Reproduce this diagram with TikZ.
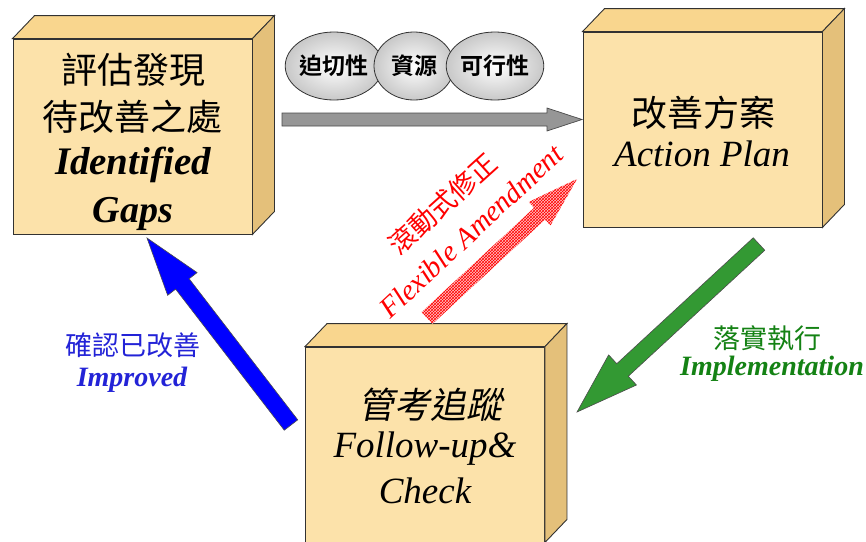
\documentclass[tikz,border=0pt]{standalone}
\usepackage{fontspec}
\setmainfont{Liberation Serif}
\newfontfamily\cjk{Noto Sans CJK TC}
\newfontfamily\cjkb{Noto Sans CJK TC Bold}
\newfontfamily\cjksl{Noto Sans CJK TC}[FakeSlant=0.2]
\usetikzlibrary{calc,patterns,shapes.geometric}

\definecolor{boxfront}{RGB}{252,226,170}
\definecolor{boxtop}{RGB}{249,214,142}
\definecolor{boxside}{RGB}{228,192,122}
\definecolor{edgec}{RGB}{50,50,50}
\definecolor{arrgreen}{RGB}{51,153,51}
\definecolor{txtgreen}{RGB}{20,130,20}
\definecolor{txtblue}{RGB}{35,35,215}
\definecolor{arrgray}{RGB}{150,150,150}
\definecolor{ballgray}{RGB}{200,200,200}

% style, tail, tip, shaft half width, head half width, head length
\newcommand{\blockarrow}[6]{%
  \coordinate (ba-h) at ($(#3)!#6!(#2)$);
  \path[#1] ($(#2)!#4!90:(#3)$) -- ($(ba-h)!#4!90:(#3)$) -- ($(ba-h)!#5!90:(#3)$)
    -- (#3) -- ($(ba-h)!#5!-90:(#3)$) -- ($(ba-h)!#4!-90:(#3)$) -- ($(#2)!#4!-90:(#3)$) -- cycle;
}
\newcommand{\threedbox}[1]{%
  \path[topface] (#1.north west) -- ++(22,-23) -- ($(#1.north east)+(22,-23)$) -- (#1.north east) -- cycle;
  \path[sideface] (#1.north east) -- ++(22,-23) -- ($(#1.south east)+(22,-23)$) -- (#1.south east) -- cycle;
}

\begin{document}
\begin{tikzpicture}[x=1pt,y=-1pt,
  front/.style={draw=edgec, line width=0.9pt, fill=boxfront, minimum width=239pt, minimum height=195pt, inner sep=0pt},
  topface/.style={draw=edgec, line width=0.9pt, fill=boxtop},
  sideface/.style={draw=edgec, line width=0.9pt, fill=boxside},
  ball/.style={ellipse, draw=black!80, line width=0.8pt, inner color=white, outer color=ballgray, minimum height=68pt, inner sep=0pt},
  lbl/.style={inner sep=0pt, anchor=center}
]
\useasboundingbox (0,0) rectangle (866,541);
\fill[white] (0,0) rectangle (866,541);

% ---------- 3D boxes ----------
\node[front] (gaps) at (132.5,136.5) {};
\threedbox{gaps}
\node[front] (plan) at (702.5,129.5) {};
\threedbox{plan}
\node[front] (check) at (425,444.5) {};
\threedbox{check}

% ---------- box texts ----------
\node[lbl] (g1) at (133,70) {\fontsize{36}{36}\cjk 評估發現};
\node[lbl] (g2) at (132,117) {\fontsize{36}{36}\cjk 待改善之處};
\node[lbl] (g3) at (133,165) {\fontsize{39}{39}\selectfont\bfseries\itshape Identified};
\node[lbl] (g4) at (133,214) {\fontsize{38}{38}\selectfont\bfseries\itshape Gaps};

\node[lbl] (p1) at (703,113) {\fontsize{36}{36}\cjk 改善方案};
\node[lbl] (p2) at (702,154) {\fontsize{37}{37}\selectfont\itshape Action Plan};

\node[lbl] (c1) at (430,405) {\fontsize{36}{36}\cjksl 管考追蹤};
\node[lbl] (c2) at (425,449) {\fontsize{37}{37}\selectfont\itshape Follow-up\&};
\node[lbl] (c3) at (425,491) {\fontsize{37}{37}\selectfont\itshape Check};

% ---------- criteria balls ----------
\node[ball, minimum width=85pt] (e1) at (334,66) {\fontsize{23}{23}\cjkb 迫切性};
\node[ball, minimum width=80pt] (e2) at (414,66) {\fontsize{23}{23}\cjkb 資源};
\node[ball, minimum width=85pt] (e3) at (495,66) {\fontsize{23}{23}\cjkb 可行性};

% ---------- gray arrow ----------
\coordinate (gray-tail) at (282,119.5);
\coordinate (gray-tip) at (582,119.5);
\blockarrow{fill=arrgray, draw=black!70, line width=0.7pt}{gray-tail}{gray-tip}{6.5pt}{11.5pt}{35pt}

% ---------- green arrow ----------
\coordinate (green-tail) at (759,244);
\coordinate (green-tip) at (577,412);
\blockarrow{fill=arrgreen, draw=black!70, line width=0.6pt}{green-tail}{green-tip}{8.5pt}{20.5pt}{62pt}
\node[lbl, text=txtgreen] (t-green1) at (767,338) {\fontsize{27}{27}\cjk 落實執行};
\node[lbl, text=txtgreen] (t-green2) at (772,369) {\fontsize{28}{28}\selectfont\bfseries\itshape Implementation};

% ---------- blue arrow ----------
\coordinate (blue-tail) at (291,425);
\coordinate (blue-tip) at (147,238);
\blockarrow{fill=blue, draw=black!70, line width=0.6pt}{blue-tail}{blue-tip}{8.5pt}{18.6pt}{58pt}
\node[lbl, text=txtblue] (t-blue1) at (133,345) {\fontsize{27}{27}\cjk 確認已改善};
\node[lbl, text=txtblue] (t-blue2) at (132,380) {\fontsize{28}{28}\selectfont\bfseries\itshape Improved};

% ---------- red arrow ----------
\coordinate (red-tail) at (427,318);
\coordinate (red-tip) at (577,179);
\blockarrow{fill=red!22}{red-tail}{red-tip}{8pt}{16pt}{51pt}
\blockarrow{pattern=crosshatch, pattern color=red}{red-tail}{red-tip}{8pt}{16pt}{51pt}
\node[lbl, text=red, rotate=42] (t-red1) at (443,204) {\fontsize{27}{27}\cjk 滾動式修正};
\node[lbl, text=red, rotate=43] (t-red2) at (471,231) {\fontsize{29}{29}\selectfont\itshape Flexible Amendment};
\end{tikzpicture}
\end{document}
